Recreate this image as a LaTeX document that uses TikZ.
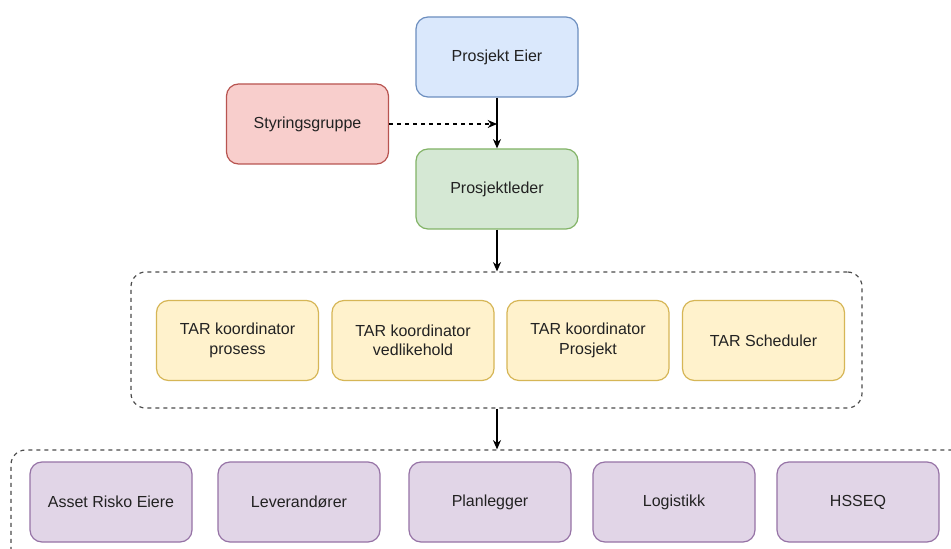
\documentclass[tikz,border=0pt]{standalone}
\usepackage{fontspec}
\setmainfont{Liberation Sans}
\usetikzlibrary{arrows.meta}
\definecolor{bluef}{HTML}{DAE8FC}\definecolor{blued}{HTML}{6C8EBF}
\definecolor{redf}{HTML}{F8CECC}\definecolor{redd}{HTML}{B85450}
\definecolor{greenf}{HTML}{D5E8D4}\definecolor{greend}{HTML}{82B366}
\definecolor{yelf}{HTML}{FFF2CC}\definecolor{yeld}{HTML}{D6B656}
\definecolor{purf}{HTML}{E1D5E7}\definecolor{purd}{HTML}{9673A6}
\definecolor{txt}{HTML}{222222}
\tikzset{
  box/.style={rectangle, rounded corners=9pt, line width=0.9pt, minimum width=121.5pt, minimum height=60pt, align=center, text=txt, inner sep=2pt, font=\fontsize{12}{14.5}\selectfont},
  bluebox/.style={box, fill=bluef, draw=blued},
  redbox/.style={box, fill=redf, draw=redd},
  greenbox/.style={box, fill=greenf, draw=greend},
  yelbox/.style={box, fill=yelf, draw=yeld},
  purbox/.style={box, fill=purf, draw=purd},
  group/.style={rectangle, rounded corners=11pt, draw=black!70, line width=0.9pt, dash pattern=on 3pt off 3pt},
  conn/.style={line width=1pt, -{Stealth[length=7pt,width=6pt]}},
}
\begin{document}
\begin{tikzpicture}[x=0.75pt,y=-0.75pt]
\clip (0,0) rectangle (951,549);
\fill[white] (0,0) rectangle (951,549);
% containers
\node[group, minimum width=548.25pt, minimum height=102pt] (c1) at (496.5,340) {};
\node[group, minimum width=735pt, minimum height=90pt] (c2) at (501,510) {};
% top boxes
\node[bluebox] (pe) at (497,57) {Prosjekt Eier};
\node[redbox] (sg) at (307.5,124) {Styringsgruppe};
\node[greenbox] (pl) at (497,189) {Prosjektleder};
% yellow
\node[yelbox] (y1) at (237.5,340.5) {TAR koordinator\\prosess};
\node[yelbox] (y2) at (413,340.5) {TAR koordinator\\vedlikehold};
\node[yelbox] (y3) at (588,340.5) {TAR koordinator\\Prosjekt};
\node[yelbox] (y4) at (763.5,340.5) {TAR Scheduler};
% purple
\node[purbox] (p1) at (111,502) {Asset Risko Eiere};
\node[purbox] (p2) at (299,502) {Leverandører};
\node[purbox] (p3) at (490,502) {Planlegger};
\node[purbox] (p4) at (674,502) {Logistikk};
\node[purbox] (p5) at (858,502) {HSSEQ};
% connectors
\coordinate (m) at (pe.south |- sg.east);
\draw[conn] (pe.south) -- (pl.north);
\draw[conn, dash pattern=on 3pt off 3pt] (sg.east) -- (m);
\draw[conn] (pl.south) -- (pl.south |- c1.north);
\draw[conn] (pl.south |- c1.south) -- (pl.south |- c2.north);
\end{tikzpicture}
\end{document}
